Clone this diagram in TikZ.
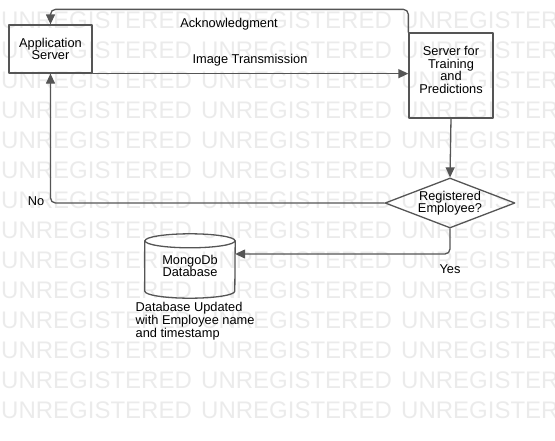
\documentclass[tikz,border=0pt]{standalone}
\usepackage{fontspec}
\setmainfont{Liberation Sans}
\usetikzlibrary{arrows.meta}
\usetikzlibrary{shapes.geometric}
\definecolor{linegray}{HTML}{555555}
\definecolor{markgray}{HTML}{EBEBEB}
\newcommand*\mywatermark[1][13]{%
    \foreach \r in {0,...,#1}{%
        \foreach \c in {0,1,2}{%
            \node[anchor=base west,inner sep=0pt,text=markgray,font=\fontsize{24}{24}\selectfont] (wm\r\c) at ({1+200*\c},{28.5+30*\r}) {UNREGISTERED};
        }%
    }%
}
\newcommand*\mydrawcylinder[2][7]{%
    \draw[box] ([yshift=-#1pt]#2.north west) -- ([yshift=#1pt]#2.south west) arc[start angle=180,end angle=0,x radius=45,y radius=#1] -- ([yshift=-#1pt]#2.north east);
    \draw[box] ([yshift=-#1pt]#2.north) ellipse[x radius=45,y radius=#1];
}

\begin{document}
\begin{tikzpicture}[x=1pt,y=-1pt,line cap=round,line join=round,
    txt/.style={inner sep=0pt,align=center,font=\fontsize{12.8}{12.6}\selectfont},
    box/.style={draw=linegray,line width=1.3pt},
    edge/.style={draw=linegray,line width=1.3pt,rounded corners=5pt,-{Triangle[length=10pt,width=9pt]}},
    decision/.style={box,txt,diamond,aspect=2.6,minimum width=130pt,minimum height=50pt}]
\useasboundingbox (0,0) rectangle (555,440);
\begin{scope}
\clip (0,0) rectangle (555,440);
\mywatermark
\end{scope}

\node[box,txt,minimum width=83pt,minimum height=48pt] (app) at (50.5,49) {Application\\Server};
\node[box,minimum width=84pt,minimum height=85pt] (srv) at (451,75.5) {};
\node[txt] (srvtext) at ([yshift=5.5pt]srv.center) {Server for\\Training\\and\\Predictions};
\node[decision] (dec) at (450,203) {Registered\\Employee?};
\node[txt,minimum width=90pt,minimum height=64pt] (db) at (190,266) {MongoDb\\Database};
\mydrawcylinder{db}

\draw[edge] (srv.north west) |- ([yshift=15pt]app.north) -- (app.north);
\draw[edge] (app.south east) -- (app.south east -| srv.west);
\draw[edge] (srv.south) -- (dec.north);
\draw[edge] (dec.west) -| (app.south);
\draw[edge] (dec.south) |- ([yshift=12pt]db.east);

\node[txt] (ack) at (229,24) {Acknowledgment};
\node[txt] (img) at (250,60) {Image Transmission};
\node[txt] (no) at (36,201) {No};
\node[txt] (yes) at (450,269) {Yes};
\node[txt,anchor=north west,align=left] (note) at (135.5,302.5) {Database Updated\\with Employee name\\and timestamp};
\end{tikzpicture}
\end{document}
